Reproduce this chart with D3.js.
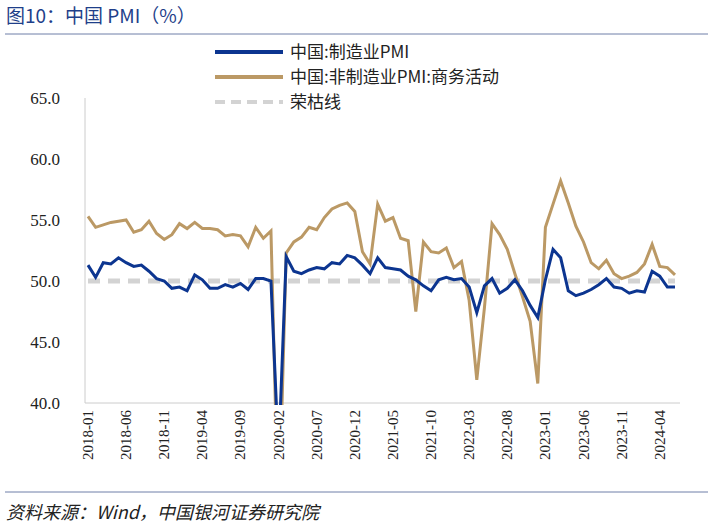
<!DOCTYPE html>
<html><head><meta charset="utf-8">
<script src="https://cdn.jsdelivr.net/npm/d3@7"></script>
<style>body{margin:0;background:#fff;font-family:"Noto Sans CJK SC","Liberation Serif",serif}</style>
</head><body><div id="chart"></div>
<script>
var mfg = [51.3,50.3,51.5,51.4,51.9,51.5,51.2,51.3,50.8,50.2,50.0,49.4,
  49.5,49.2,50.5,50.1,49.4,49.4,49.7,49.5,49.8,49.3,50.2,50.2,
  50.0,35.7,52.0,50.8,50.6,50.9,51.1,51.0,51.5,51.4,52.1,51.9,
  51.3,50.6,51.9,51.1,51.0,50.9,50.4,50.1,49.6,49.2,50.1,50.3,
  50.1,50.2,49.5,47.4,49.6,50.2,49.0,49.4,50.1,49.2,48.0,47.0,
  50.1,52.6,51.9,49.2,48.8,49.0,49.3,49.7,50.2,49.5,49.4,49.0,
  49.2,49.1,50.8,50.4,49.5,49.5]
var nonMfg = [55.3,54.4,54.6,54.8,54.9,55.0,54.0,54.2,54.9,53.9,53.4,53.8,
  54.7,54.3,54.8,54.3,54.3,54.2,53.7,53.8,53.7,52.8,54.4,53.5,
  54.1,29.6,52.3,53.2,53.6,54.4,54.2,55.2,55.9,56.2,56.4,55.7,
  52.4,51.4,56.3,54.9,55.2,53.5,53.3,47.5,53.2,52.4,52.3,52.7,
  51.1,51.6,48.4,41.9,47.8,54.7,53.8,52.6,50.6,48.7,46.7,41.6,
  54.4,56.3,58.2,56.4,54.5,53.2,51.5,51.0,51.7,50.6,50.2,50.4,
  50.7,51.4,53.0,51.2,51.1,50.5]
var yTicks = [40,45,50,55,60,65]
var seriesNames = ['中国:制造业PMI','中国:非制造业PMI:商务活动','荣枯线']

var months = mfg.map(function(d,i){
  var y = 2018 + Math.floor(i/12), m = i%12 + 1
  return y + '-' + (m<10?'0':'') + m
})

var width = 713, height = 530
var svg = d3.select('#chart').append('svg').attr('width', width).attr('height', height)

svg.append('text').attr('x', 6).attr('y', 23).text('图10：中国 PMI（%）')
  .style('fill', '#1f3f8a').style('font-size', '19px')
svg.append('line').attr('x1', 5).attr('x2', 708).attr('y1', 34).attr('y2', 34).style('stroke', '#6f7fa8').style('stroke-width', 1)
svg.append('line').attr('x1', 5).attr('x2', 708).attr('y1', 492).attr('y2', 492).style('stroke', '#6f7fa8').style('stroke-width', 1)
svg.append('text').attr('x', 6).attr('y', 519).text('资料来源：Wind，中国银河证券研究院')
  .style('font-size', '18px').style('font-style', 'italic').style('fill', '#222')

var x = d3.scalePoint().domain(months).range([88, 675])
var y = d3.scaleLinear().domain([40, 65]).range([403, 98])

svg.append('line').attr('x1', 85).attr('x2', 85).attr('y1', 98).attr('y2', 403).style('stroke', '#ccc')
svg.append('line').attr('x1', 85).attr('x2', 680).attr('y1', 403).attr('y2', 403).style('stroke', '#ccc')

svg.selectAll('text.yt').data(yTicks).enter().append('text').attr('class', 'yt')
  .attr('x', 60).attr('y', function(d){ return y(d) + 6 })
  .attr('text-anchor', 'end').style('font-size', '17px').style('font-family', 'Liberation Serif, serif').style('fill', '#222')
  .text(function(d){ return d.toFixed(1) })

var xLabels = months.filter(function(d,i){ return i % 5 === 0 })
svg.selectAll('text.xt').data(xLabels).enter().append('text').attr('class', 'xt')
  .attr('transform', function(d){ return 'translate(' + (x(d) + 5) + ',410) rotate(-90)' })
  .attr('text-anchor', 'end').style('font-size', '15px').style('font-family', 'Liberation Serif, serif').style('fill', '#222')
  .text(function(d){ return d })

svg.append('clipPath').attr('id', 'clip').append('rect').attr('x', 85).attr('y', 90).attr('width', 600).attr('height', 315)
var g = svg.append('g').attr('clip-path', 'url(#clip)')

g.append('line').attr('x1', 88).attr('x2', 675).attr('y1', y(50)).attr('y2', y(50))
  .style('stroke', '#d3d3d3').style('stroke-width', 5).style('stroke-dasharray', '12,8')

var line = d3.line().x(function(d,i){ return x(months[i]) }).y(function(d){ return y(d) })
g.append('path').attr('d', line(nonMfg)).style('fill', 'none').style('stroke', '#bb9965').style('stroke-width', 3)
g.append('path').attr('d', line(mfg)).style('fill', 'none').style('stroke', '#0c3590').style('stroke-width', 3)

var legend = [{c:'#0c3590', dash:null}, {c:'#bb9965', dash:null}, {c:'#d3d3d3', dash:'10,6'}]
legend.forEach(function(d,i){
  var ly = 52 + i*25
  svg.append('line').attr('x1', 215).attr('x2', 283).attr('y1', ly).attr('y2', ly)
    .style('stroke', d.c).style('stroke-width', 4).style('stroke-dasharray', d.dash)
  svg.append('text').attr('x', 290).attr('y', ly + 6).text(seriesNames[i]).style('font-size', '17px').style('fill', '#222')
})
</script></body></html>
